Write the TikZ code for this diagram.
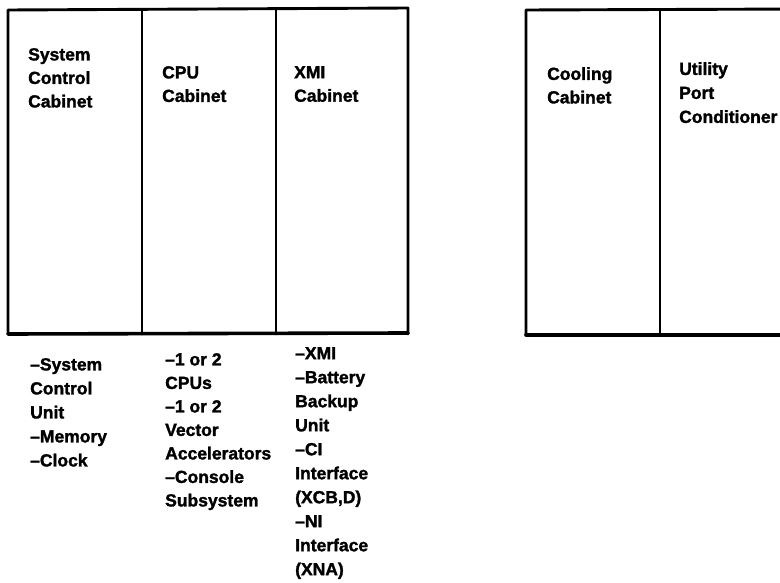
\documentclass[tikz,border=0pt]{standalone}
\usepackage{fontspec}
\setmainfont{Liberation Sans}
\newfontfamily\heavyfont[FakeBold=1.6,Ligatures=TeX]{Liberation Sans Bold}
\usepackage{tikz}

\tikzset{
  cabline/.style={line width=2.9pt,line cap=round,line join=round},
  cabbase/.style={line width=3.6pt,line cap=round},
  lbl/.style={anchor=north west,inner sep=0pt,align=left,
    font={\fontsize{17.5}{23.5}\selectfont\heavyfont}},
  lblwide/.style={lbl,font={\fontsize{17.5}{24}\selectfont\heavyfont}}
}

\begin{document}
\begin{tikzpicture}[x=1pt,y=-1pt]

\useasboundingbox (0,0) rectangle (780,583);
\clip (0,0) rectangle (780,583);

%==================== 左侧机柜组 ====================
\draw[cabline] (8,334) -- (8,10) -- (408,8) -- (408,334);
\draw[cabbase] (8,334) -- (408,333);
\foreach \x in {142,276}
{
    \draw[cabline] (\x,10) -- (\x,334);
}

% 机柜名称
\node[lbl] (sysT) at (28,48) {System\\Control\\Cabinet};
\node[lbl] (cpuT) at (162,66) {CPU\\Cabinet};
\node[lbl] (xmiT) at (294,66) {XMI\\Cabinet};

%==================== 右侧机柜组 ====================
\draw[cabline] (526,335) -- (526,10) -- (800,9);
\draw[cabbase] (526,335) -- (800,335);
\draw[cabline] (660,10) -- (660,335);

% 机柜名称
\node[lbl] (coolT) at (547,67) {Cooling\\Cabinet};
\node[lblwide] (utilT) at (679,62) {Utility\\Port\\Conditioner};

%==================== 下方部件清单 ====================
\node[lblwide] (sysL) at (30,358) {--System\\Control\\Unit\\--Memory\\--Clock};
\node[lbl] (cpuL) at (165,353) {--1 or 2\\CPUs\\--1 or 2\\Vector\\Accelerators\\--Console\\Subsystem};
\node[lblwide] (xmiL) at (295,347) {--XMI\\--Battery\\Backup\\Unit\\--CI\\Interface\\(XCB,D)\\--NI\\Interface\\(XNA)};

\end{tikzpicture}
\end{document}
